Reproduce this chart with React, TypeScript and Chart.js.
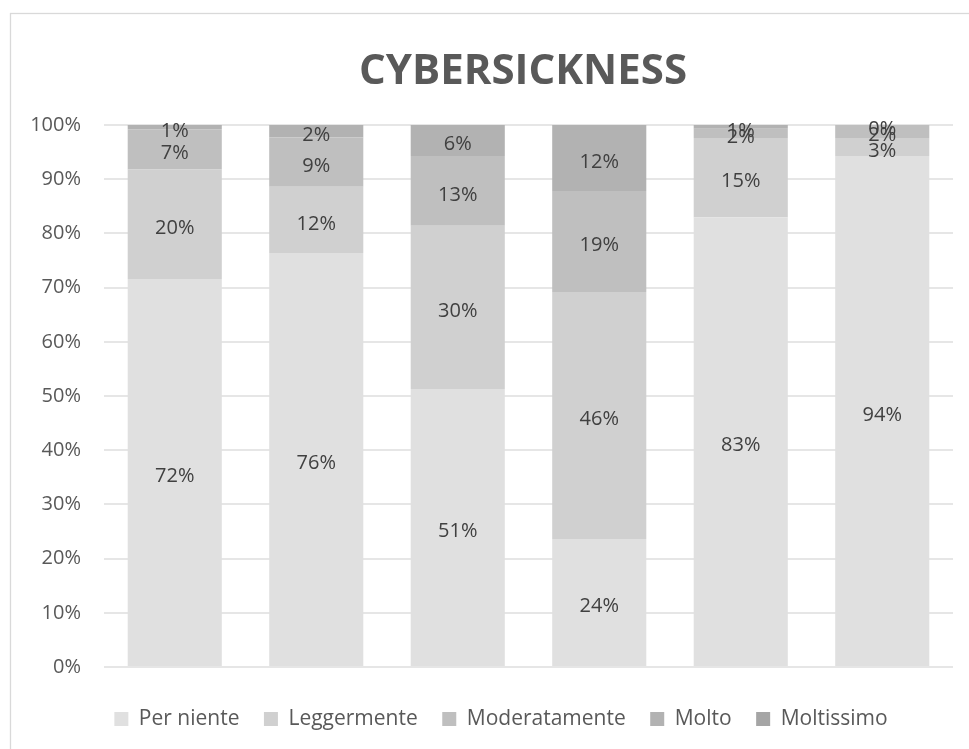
import React, { useEffect, useRef } from "react";
import { Chart, registerables } from "chart.js";

Chart.register(...registerables);

const categories = ["1", "2", "3", "4", "5", "6"];
const seriesNames = ["Per niente", "Leggermente", "Moderatamente", "Molto", "Moltissimo"];
const perNiente = [71.6, 76.4, 51.3, 23.6, 83.0, 94.3];
const leggermente = [20.2, 12.2, 30.1, 45.6, 14.6, 3.3];
const moderatamente = [7.4, 9.1, 12.9, 18.6, 1.7, 2.4];
const molto = [0.8, 2.3, 5.7, 12.2, 0.7, 0];
const moltissimo: (number | null)[] = [null, null, null, null, null, null];
const seriesValues = [perNiente, leggermente, moderatamente, molto, moltissimo];
const seriesColors = ["#e0e0e0", "#d0d0d0", "#bfbfbf", "#b2b2b2", "#a5a5a5"];
const yTicks = [0, 10, 20, 30, 40, 50, 60, 70, 80, 90, 100];
const titleText = "CYBERSICKNESS";

const FONT = "'Open Sans', 'DejaVu Sans', sans-serif";

const decorPlugin = {
  id: "decor",
  beforeDraw(chart: any) {
    const ctx = chart.ctx;
    ctx.save();
    ctx.fillStyle = "#ffffff";
    ctx.fillRect(0, 0, chart.width, chart.height);
    ctx.strokeStyle = "#d9d9d9";
    ctx.lineWidth = 1.3;
    ctx.strokeRect(10.5, 13.5, 1200, 1200);
    ctx.restore();
  },
  afterLayout(chart: any) {
    if (chart.legend) {
      chart.legend.left += 14.5;
      chart.legend.right += 14.5;
    }
  },
  afterDraw(chart: any) {
    const ctx = chart.ctx;
    ctx.save();
    ctx.font = `bold 42px ${FONT}`;
    ctx.fillStyle = "#595959";
    ctx.textAlign = "center";
    ctx.textBaseline = "alphabetic";
    ctx.fillText(titleText, 523, 84);
    ctx.restore();
  },
};

const labelPlugin = {
  id: "segLabels",
  afterDatasetsDraw(chart: any) {
    const ctx = chart.ctx;
    ctx.save();
    ctx.font = `20px ${FONT}`;
    ctx.fillStyle = "#404040";
    ctx.textAlign = "center";
    ctx.textBaseline = "middle";
    chart.data.datasets.forEach((ds: any, di: number) => {
      const meta = chart.getDatasetMeta(di);
      meta.data.forEach((el: any, i: number) => {
        const v = ds.data[i];
        if (v === null || v === undefined) return;
        const cy = (el.y + el.base) / 2 + 4;
        ctx.fillText(Math.round(v) + "%", el.x, cy);
      });
    });
    ctx.restore();
  },
};

export default function App() {
  const ref = useRef<HTMLCanvasElement>(null);
  useEffect(() => {
    if (!ref.current) return;
    const chart = new Chart(ref.current, {
      type: "bar",
      data: {
        labels: categories,
        datasets: seriesNames.map((name, i) => ({
          label: name,
          data: seriesValues[i],
          backgroundColor: seriesColors[i],
          borderWidth: 0,
          categoryPercentage: 1,
          barPercentage: 0.665,
        })),
      },
      options: {
        responsive: false,
        animation: false,
        layout: { padding: { left: 20, right: 16, top: 125, bottom: 9.5 } },
        scales: {
          x: {
            stacked: true,
            display: true,
            grid: { display: false },
            border: { display: false },
            ticks: { display: false },
            afterFit: (s: any) => {
              s.height = 17;
            },
          },
          y: {
            stacked: true,
            min: 0,
            max: 100,
            afterBuildTicks: (s: any) => {
              s.ticks = yTicks.map((v) => ({ value: v }));
            },
            afterFit: (s: any) => {
              s.width = 84;
            },
            grid: { color: "#e6e6e6", lineWidth: 2, drawTicks: false },
            border: { display: false },
            ticks: {
              padding: 23,
              color: "#595959",
              font: { family: FONT, size: 20 },
              callback: (v: any) => v + "%",
            },
          },
        },
        plugins: {
          title: { display: false },
          tooltip: { enabled: false },
          legend: {
            position: "bottom",
            labels: {
              boxWidth: 14,
              boxHeight: 14,
              padding: 24.5,
              color: "#595959",
              font: { family: FONT, size: 21 },
            },
          },
        },
      },
      plugins: [decorPlugin, labelPlugin],
    } as any);
    return () => chart.destroy();
  }, []);
  return (
    <div style={{ position: "fixed", left: 0, top: 0, width: 969, height: 749, background: "#fff" }}>
      <canvas ref={ref} width={969} height={749} style={{ display: "block" }} />
    </div>
  );
}
